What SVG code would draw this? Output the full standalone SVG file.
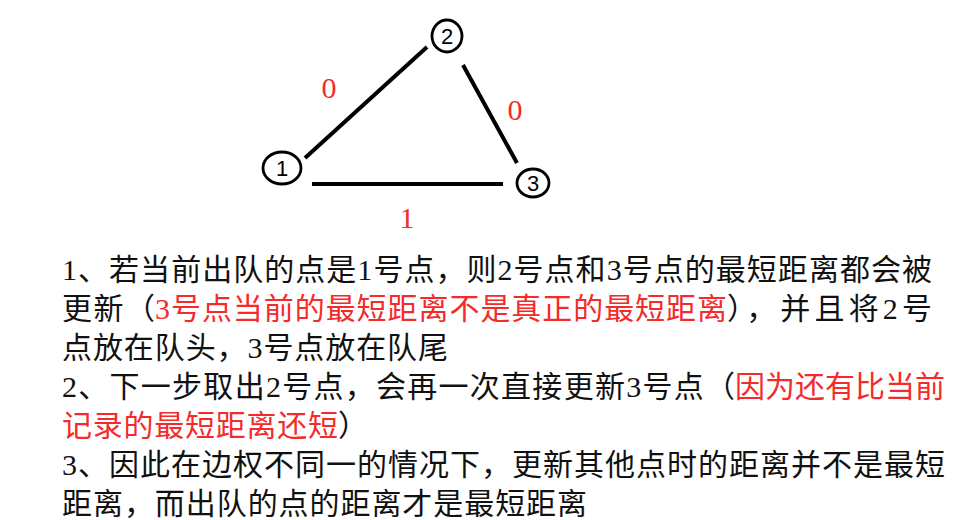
<svg xmlns="http://www.w3.org/2000/svg" width="970" height="520" viewBox="0 0 970 520">
  <style>
    .edge { stroke: #000; stroke-width: 4; stroke-linecap: butt; fill: none; }
    .node { fill: none; stroke: #000; stroke-width: 2.8; }
    .nlabel { font-family: "Liberation Sans", Arial, sans-serif; font-size: 22px; fill: #000; text-anchor: middle; }
    .wlabel { font-family: "Liberation Serif", "Times New Roman", serif; font-size: 30px; fill: #f52a2a; text-anchor: middle; }
    .t { font-family: "Liberation Serif", "Noto Sans CJK SC", serif; font-size: 30px; fill: #111; }
    .red { fill: #f52a2a; }
  </style>
  <rect width="970" height="520" fill="#fff"/>

  <g id="connectors">
    <line class="edge" x1="305" y1="158" x2="427" y2="47"/>
    <line class="edge" x1="463" y1="65" x2="517" y2="163"/>
    <line class="edge" x1="312" y1="184" x2="503" y2="184"/>
    <text class="wlabel" x="329" y="98">0</text>
    <text class="wlabel" x="515" y="120">0</text>
    <text class="wlabel" x="407" y="228">1</text>
  </g>

  <g id="node1">
    <ellipse class="node" cx="282" cy="168" rx="19" ry="16"/>
    <text class="nlabel" x="282" y="176">1</text>
  </g>
  <g id="node2">
    <ellipse class="node" cx="447" cy="36" rx="15" ry="16"/>
    <text class="nlabel" x="447" y="44">2</text>
  </g>
  <g id="node3">
    <ellipse class="node" cx="533" cy="183" rx="16" ry="14"/>
    <text class="nlabel" x="533" y="191">3</text>
  </g>

  <g id="notes">
    <text class="t" x="62" y="280" textLength="870" lengthAdjust="spacing">1、若当前出队的点是1号点，则2号点和3号点的最短距离都会被</text>
    <text class="t" y="319">
      <tspan x="62" textLength="93" lengthAdjust="spacing">更新（</tspan><tspan class="red" x="155" textLength="572" lengthAdjust="spacing">3号点当前的最短距离不是真正的最短距离</tspan><tspan x="727" textLength="205" lengthAdjust="spacing">），并且将2号</tspan>
    </text>
    <text class="t" x="62" y="358" textLength="386" lengthAdjust="spacing">点放在队头，3号点放在队尾</text>
    <text class="t" y="397">
      <tspan x="62" textLength="673" lengthAdjust="spacing">2、下一步取出2号点，会再一次直接更新3号点（</tspan><tspan class="red" x="735" textLength="210" lengthAdjust="spacing">因为还有比当前</tspan>
    </text>
    <text class="t" y="436">
      <tspan class="red" x="62" textLength="276" lengthAdjust="spacing">记录的最短距离还短</tspan><tspan x="338">）</tspan>
    </text>
    <text class="t" x="62" y="475" textLength="883" lengthAdjust="spacing">3、因此在边权不同一的情况下，更新其他点时的距离并不是最短</text>
    <text class="t" x="62" y="514" textLength="525" lengthAdjust="spacing">距离，而出队的点的距离才是最短距离</text>
  </g>
</svg>
